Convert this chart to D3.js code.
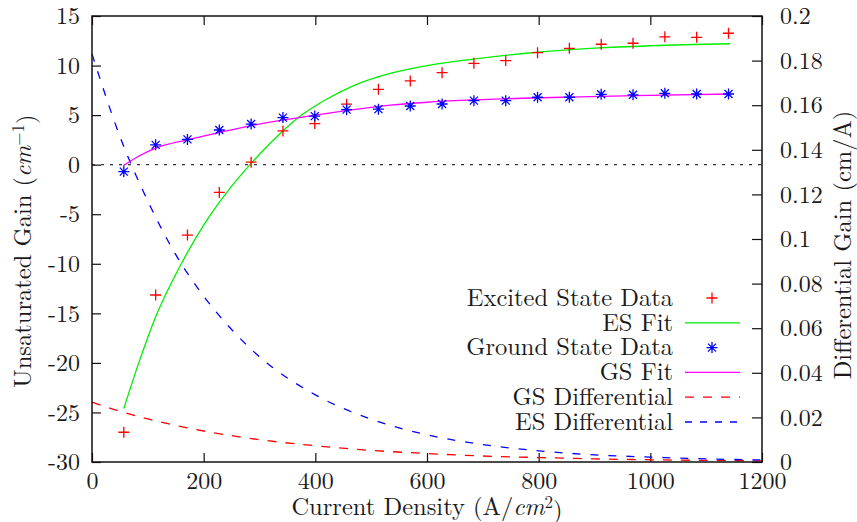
<!DOCTYPE html>
<html>
<head>
<meta charset="utf-8">
<script src="https://cdn.jsdelivr.net/npm/d3@7"></script>
</head>
<body style="margin:0;padding:0;background:#fff">
<svg id="chart" width="857" height="522"></svg>
<script>
// Current density of each measurement (A/cm^2)
const currentDensity = [57, 114, 171, 228, 285, 342, 399, 456, 513, 570,
                        627, 684, 741, 798, 855, 912, 969, 1026, 1083, 1140];
// Measured unsaturated gain (cm^-1)
const excitedStateGain = [-27.0, -13.15, -7.1, -2.8, 0.25, 3.4, 4.15, 6.1, 7.6, 8.45,
                          9.28, 10.23, 10.5, 11.3, 11.74, 12.15, 12.25, 12.9, 12.85, 13.26];
const groundStateGain = [-0.7, 2.0, 2.55, 3.5, 4.1, 4.75, 4.9, 5.55, 5.6, 5.92,
                         6.12, 6.46, 6.46, 6.8, 6.8, 7.1, 7.05, 7.2, 7.13, 7.13];

// Fitted gain curves (cm^-1)
const esFitJ = [57, 85, 113, 159, 200, 240, 283, 340, 373, 420, 470, 534, 600, 683, 799, 900, 1000, 1143];
const esFitG = [-24.6, -19.8, -15.5, -10.1, -6.1, -2.9, 0, 3.3, 4.9, 6.6, 8.0, 9.2, 10.0, 10.65, 11.35, 11.75, 12.0, 12.2];
const gsFitJ = [56, 85, 113, 170, 228, 286, 341, 400, 455, 534, 600, 684, 770, 856, 971, 1143];
const gsFitG = [-0.1, 0.9, 1.65, 2.5, 3.25, 3.95, 4.5, 5.0, 5.45, 6.0, 6.3, 6.53, 6.7, 6.82, 6.97, 7.13];

// Differential gain (cm/A), right axis
const diffJ = [0, 50, 100, 150, 200, 250, 300, 400, 500, 600, 700, 800, 900, 1000, 1100, 1200];
const gsDifferential = [0.0268, 0.0227, 0.0193, 0.0164, 0.0139, 0.0118, 0.0100, 0.0073, 0.0052,
                        0.0038, 0.0027, 0.0020, 0.0014, 0.0010, 0.0007, 0.0005];
const esDifferential = [0.183, 0.146, 0.117, 0.093, 0.0744, 0.0594, 0.0472, 0.0301, 0.0192,
                        0.0122, 0.0078, 0.0050, 0.0032, 0.0022, 0.0014, 0.0009];

// Tick values and labels
const xTicks = [0, 200, 400, 600, 800, 1000, 1200];
const yTicks = [15, 10, 5, 0, -5, -10, -15, -20, -25, -30];
const yTickLabels = ["15", "10", "5", "0", "-5", "-10", "-15", "-20", "-25", "-30"];
const y2Ticks = [0.2, 0.18, 0.16, 0.14, 0.12, 0.1, 0.08, 0.06, 0.04, 0.02, 0];
const y2TickLabels = ["0.2", "0.18", "0.16", "0.14", "0.12", "0.1", "0.08", "0.06", "0.04", "0.02", "0"];

const legendLabels = ["Excited State Data", "ES Fit", "Ground State Data", "GS Fit",
                      "GS Differential", "ES Differential"];

const FONT = '"Latin Modern Roman", "Liberation Serif", serif';
const TEXT_COLOR = "#1a1a1a";

const svg = d3.select("#chart")
  .attr("font-family", FONT)
  .style("font-family", FONT);
const L = 92, R = 762, T = 16, B = 462;

const x = d3.scaleLinear().domain([0, 1200]).range([L, R]);
const y = d3.scaleLinear().domain([-30, 15]).range([B, T]);
const y2 = d3.scaleLinear().domain([0, 0.2]).range([B, T]);

function styleAxis(g) {
  g.attr("font-family", FONT).attr("font-size", 24);
  g.select(".domain").remove();
  g.selectAll(".tick line").attr("stroke", "#111").attr("stroke-width", 1.2);
  g.selectAll(".tick text")
    .attr("font-family", FONT).style("font-family", FONT)
    .attr("font-size", 24).attr("fill", TEXT_COLOR);
}

// Axes with inward ticks
svg.append("g").attr("transform", `translate(0,${B})`)
  .call(d3.axisBottom(x).tickValues(xTicks).tickFormat(d => String(d)).tickSize(-9).tickPadding(10))
  .call(styleAxis);
svg.append("g").attr("transform", `translate(0,${T})`)
  .call(d3.axisTop(x).tickValues(xTicks).tickFormat("").tickSize(-9))
  .call(styleAxis);
svg.append("g").attr("transform", `translate(${L},0)`)
  .call(d3.axisLeft(y).tickValues(yTicks).tickFormat((d, i) => yTickLabels[i]).tickSize(-9).tickPadding(12))
  .call(styleAxis);
svg.append("g").attr("transform", `translate(${R},0)`)
  .call(d3.axisRight(y2).tickValues(y2Ticks).tickFormat((d, i) => y2TickLabels[i]).tickSize(-10).tickPadding(18))
  .call(styleAxis);

// Zero-gain reference line
svg.append("line")
  .attr("x1", x(0)).attr("x2", x(1200)).attr("y1", y(0)).attr("y2", y(0))
  .attr("stroke", "#333").attr("stroke-width", 1.3).attr("stroke-dasharray", "3,6");

const curve = d3.line().curve(d3.curveMonotoneX);

function plotLine(xs, ys, scaleY, color, dash) {
  const pts = xs.map((d, i) => [x(d), scaleY(ys[i])]);
  svg.append("path")
    .attr("d", curve(pts))
    .attr("fill", "none")
    .attr("stroke", color)
    .attr("stroke-width", 1.3)
    .attr("stroke-dasharray", dash || null);
}

plotLine(diffJ, gsDifferential, y2, "#ff0000", "9,9");
plotLine(diffJ, esDifferential, y2, "#0000ff", "8,10");
plotLine(esFitJ, esFitG, y, "#00ee00");
plotLine(gsFitJ, gsFitG, y, "#ff00ff");

const plusPath = "M-5.5,0H5.5M0,-5.5V5.5";
const starPath = "M-5.5,0H5.5M0,-5.5V5.5M-4,-4L4,4M-4,4L4,-4";

svg.append("g").selectAll("path")
  .data(currentDensity)
  .join("path")
  .attr("d", plusPath)
  .attr("transform", (d, i) => `translate(${x(d)},${y(excitedStateGain[i])})`)
  .attr("stroke", "#ff0000").attr("stroke-width", 1.3).attr("fill", "none");

svg.append("g").selectAll("path")
  .data(currentDensity)
  .join("path")
  .attr("d", starPath)
  .attr("transform", (d, i) => `translate(${x(d)},${y(groundStateGain[i])})`)
  .attr("stroke", "#0000ff").attr("stroke-width", 1.3).attr("fill", "none");

// Plot frame
svg.append("rect")
  .attr("x", L).attr("y", T).attr("width", R - L).attr("height", B - T)
  .attr("fill", "none").attr("stroke", "#111").attr("stroke-width", 1.5);

function addText(parent) {
  return parent.append("text")
    .attr("font-family", FONT).style("font-family", FONT)
    .attr("font-size", 24.5).attr("fill", TEXT_COLOR);
}

// Legend
const legend = svg.append("g");
const legendStyles = [
  { kind: "plus", color: "#ff0000" },
  { kind: "line", color: "#00ee00" },
  { kind: "star", color: "#0000ff" },
  { kind: "line", color: "#ff00ff" },
  { kind: "line", color: "#ff0000", dash: "9,9" },
  { kind: "line", color: "#0000ff", dash: "7,8" }
];
legendLabels.forEach((lab, i) => {
  const cy = 298 + i * 24.8;
  addText(legend)
    .attr("x", 673).attr("y", cy).attr("dy", "0.32em")
    .attr("text-anchor", "end")
    .text(lab);
  const st = legendStyles[i];
  if (st.kind === "line") {
    legend.append("line")
      .attr("x1", 685).attr("x2", 740).attr("y1", cy).attr("y2", cy)
      .attr("stroke", st.color).attr("stroke-width", 1.3)
      .attr("stroke-dasharray", st.dash || null);
  } else {
    legend.append("path")
      .attr("d", st.kind === "plus" ? plusPath : starPath)
      .attr("transform", `translate(712,${cy})`)
      .attr("stroke", st.color).attr("stroke-width", 1.3).attr("fill", "none");
  }
});

// Axis titles
const xTitle = addText(svg)
  .attr("x", 427).attr("y", 507).attr("dy", "0.32em")
  .attr("text-anchor", "middle");
xTitle.append("tspan").text("Current Density (A/");
xTitle.append("tspan").attr("font-style", "italic").text("cm");
xTitle.append("tspan").attr("dy", "-0.42em").attr("font-size", 17).text("2");
xTitle.append("tspan").attr("dy", "0.42em").text(")");

const yTitle = addText(svg)
  .attr("transform", "translate(23,251) rotate(-90)")
  .attr("text-anchor", "middle").attr("dy", "0.32em");
yTitle.append("tspan").text("Unsaturated Gain (");
yTitle.append("tspan").attr("font-style", "italic").text("cm");
yTitle.append("tspan").attr("dy", "-0.42em").attr("font-size", 17).text("−1");
yTitle.append("tspan").attr("dy", "0.42em").text(")");

addText(svg)
  .attr("transform", "translate(843,245) rotate(-90)")
  .attr("text-anchor", "middle").attr("dy", "0.32em")
  .text("Differential Gain (cm/A)");
</script>
</body>
</html>
